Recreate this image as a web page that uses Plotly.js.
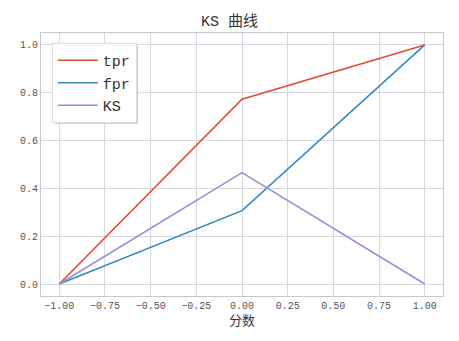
<!DOCTYPE html>
<html>
<head>
<meta charset="utf-8">
<script src="https://cdn.plot.ly/plotly-3.0.1.min.js"></script>
<style>html,body{margin:0;padding:0;background:#fff}#chart{width:459px;height:341px}</style>
</head>
<body>
<div id="chart"></div>
<script>
const thresholds = [-1, 0, 1];
const tpr = [0, 0.773, 1];
const fpr = [0, 0.307, 1];
const ks = [0, 0.466, 0];
const seriesNames = ["tpr", "fpr", "KS"];
const colors = ["#E24A33", "#348ABD", "#988ED5"];
const xTicks = [-1, -0.75, -0.5, -0.25, 0, 0.25, 0.5, 0.75, 1];
const xTickText = ["−1.00", "−0.75", "−0.50", "−0.25", "0.00", "0.25", "0.50", "0.75", "1.00"];
const yTicks = [0, 0.2, 0.4, 0.6, 0.8, 1.0];
const yTickText = ["0.0", "0.2", "0.4", "0.6", "0.8", "1.0"];

const font = "'Liberation Mono', 'Noto Sans CJK SC', monospace";
const data = [tpr, fpr, ks].map((ys, i) => ({
  x: thresholds, y: ys, name: seriesNames[i], type: "scatter", mode: "lines",
  line: {color: colors[i], width: 1.6}
}));
const layout = {
  width: 459, height: 341,
  margin: {l: 41, r: 16, t: 33, b: 45},
  paper_bgcolor: "#fff", plot_bgcolor: "#fff",
  font: {family: font, color: "#555", size: 10},
  title: {text: "KS 曲线", font: {family: font, size: 15, color: "#333"}, x: 0.5, xanchor: "center", y: 0.94, yanchor: "middle"},
  xaxis: {range: [-1.1, 1.1], tickvals: xTicks, ticktext: xTickText, showgrid: true, gridcolor: "#d8d8e0", gridwidth: 1,
    zeroline: false, showline: true, mirror: true, linecolor: "#c8c8d0", linewidth: 1, ticks: "", ticklen: 0,
    tickfont: {size: 10, color: "#555", family: font},
    title: {text: "分数", font: {size: 13, color: "#333", family: font}, standoff: 4}},
  yaxis: {range: [-0.05, 1.05], tickvals: yTicks, ticktext: yTickText, showgrid: true, gridcolor: "#d8d8e0", gridwidth: 1,
    zeroline: false, showline: true, mirror: true, linecolor: "#c8c8d0", linewidth: 1, ticks: "", ticklen: 0,
    tickfont: {size: 10, color: "#555", family: font}},
  showlegend: true,
  legend: {x: 0.027, y: 0.962, xanchor: "left", yanchor: "top", bgcolor: "#fff", bordercolor: "#ddd", borderwidth: 1,
    font: {size: 15, color: "#333", family: font}, itemwidth: 40, tracegroupgap: 0},
  shapes: [{type: "rect", xref: "paper", yref: "paper", x0: 0.035, x1: 0.241, y0: 0.655, y1: 0.951,
    fillcolor: "rgba(110,110,110,0.4)", line: {width: 0}, layer: "above"}]
};
Plotly.newPlot("chart", data, layout, {displayModeBar: false, staticPlot: true});
</script>
</body>
</html>
